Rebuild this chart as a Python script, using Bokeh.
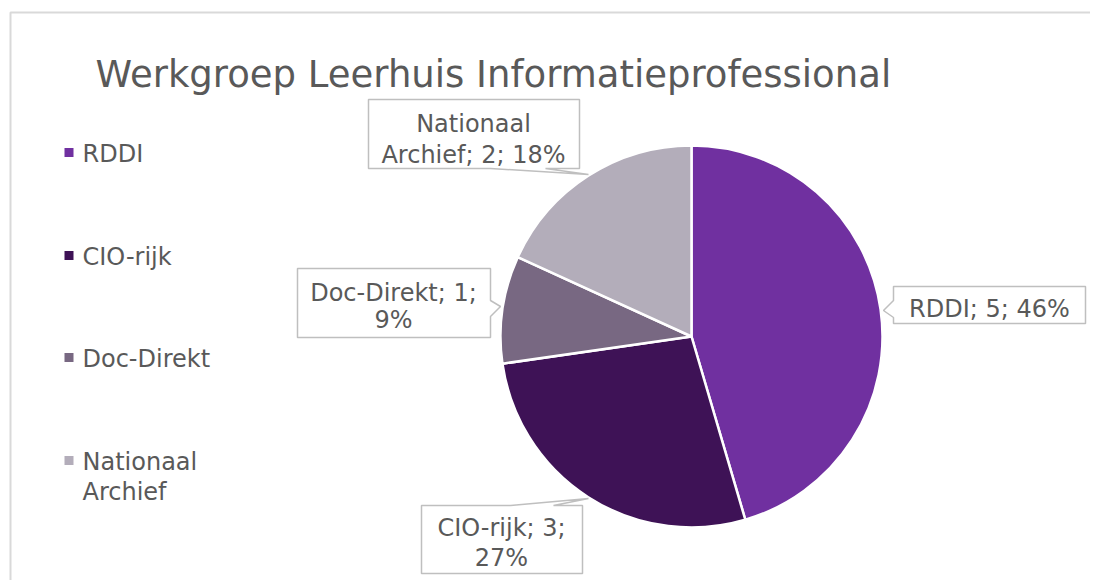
import math
from bokeh.plotting import figure
from bokeh.models import Range1d, ColumnDataSource
from bokeh.embed import file_html
from bokeh.resources import INLINE
from bokeh.core.properties import value

# ---- data ----
title_text = "Werkgroep Leerhuis Informatieprofessional"
categories = ["RDDI", "CIO-rijk", "Doc-Direkt", "Nationaal Archief"]
values = [5, 3, 1, 2]
percent_labels = ["46%", "27%", "9%", "18%"]
colors = ["#7030A0", "#3E1256", "#786882", "#B3ADBA"]

# ---- layout helpers (page pixel coordinates -> data coordinates) ----
W, H = 1090, 580
OX, OY = 0, 0


def X(px):
    return px - OX


def Y(py):
    return H - (py - OY)


FONT = value("DejaVu Sans")
TXT = "#595959"

p = figure(width=W, height=H, x_range=Range1d(0, W), y_range=Range1d(0, H),
           output_backend="svg", toolbar_location=None, min_border=0,
           x_axis_location=None, y_axis_location=None)
p.grid.visible = False
p.outline_line_color = None
p.background_fill_color = "white"
p.border_fill_color = "white"

# chart area border (top and left visible)
p.line([X(10), X(10), X(1100)], [Y(600), Y(12), Y(12)], line_color="#D9D9D9", line_width=2)

# ---- pie ----
total = sum(values)
starts, ends = [], []
cum = 0
for v in values:
    starts.append(math.pi / 2 - 2 * math.pi * cum / total)
    cum += v
    ends.append(math.pi / 2 - 2 * math.pi * cum / total)

src = ColumnDataSource(dict(start=starts, end=ends, color=colors, cat=categories))
p.wedge(x=X(691), y=Y(336), radius=191, radius_units="screen",
        start_angle="start", end_angle="end", direction="clock",
        fill_color="color", line_color="white", line_width=2.5, source=src)

# ---- callouts ----
callout_shapes = [
    [(893, 286), (1085, 286), (1085, 323), (893, 323), (893, 317), (883, 310), (893, 300)],
    [(421, 505), (510, 505), (588, 498), (553, 505), (582, 505), (582, 573), (421, 573)],
    [(297, 268), (490, 268), (490, 300), (500, 306), (490, 316), (490, 337), (297, 337)],
    [(368, 99), (579, 99), (579, 168), (545, 168), (588, 174), (490, 168), (368, 168)],
]
p.patches([[X(a) for a, b in s] for s in callout_shapes],
          [[Y(b) for a, b in s] for s in callout_shapes],
          fill_color="white", line_color="#BFBFBF", line_width=1.5)

label_full = [f"{c}; {v}; {pc}" for c, v, pc in zip(categories, values, percent_labels)]
label_lines = [
    [label_full[0]],
    [label_full[1][:-4], label_full[1][-3:]],
    [label_full[2][:-3], label_full[2][-2:]],
    ["Nationaal", label_full[3][len("Nationaal "):]],
]
label_cx = [989, 501, 393, 473]
label_baselines = [[308], [527, 557], [292, 319], [123, 154]]

tx, ty, tt = [], [], []
for lines, cx, bls in zip(label_lines, label_cx, label_baselines):
    for ln, bl in zip(lines, bls):
        tx.append(X(cx)); ty.append(Y(bl)); tt.append(ln)
p.text(x=tx, y=ty, text=tt, text_align="center", text_baseline="alphabetic",
       text_font=FONT, text_font_size="24px", text_color=TXT)

# ---- title ----
p.text(x=[X(95)], y=[Y(74)], text=[title_text], text_align="left",
       text_baseline="alphabetic", text_font=FONT, text_font_size="37px",
       text_color=TXT)

# ---- legend ----
leg_sq_y = [152, 255, 357, 460]
p.rect(x=[X(68.5)] * 4, y=[Y(v) for v in leg_sq_y], width=9, height=9,
       width_units="screen", height_units="screen", fill_color=colors, line_color=None)
leg_lines = [[categories[0]], [categories[1]], [categories[2]], categories[3].split(" ")]
leg_bl = [[153], [256], [358], [461, 491]]
lx, ly, lt = [], [], []
for lines, bls in zip(leg_lines, leg_bl):
    for ln, bl in zip(lines, bls):
        lx.append(X(82)); ly.append(Y(bl)); lt.append(ln)
p.text(x=lx, y=ly, text=lt, text_align="left", text_baseline="alphabetic",
       text_font=FONT, text_font_size="24px", text_color=TXT)

open("out.html", "w").write(file_html(p, INLINE))
